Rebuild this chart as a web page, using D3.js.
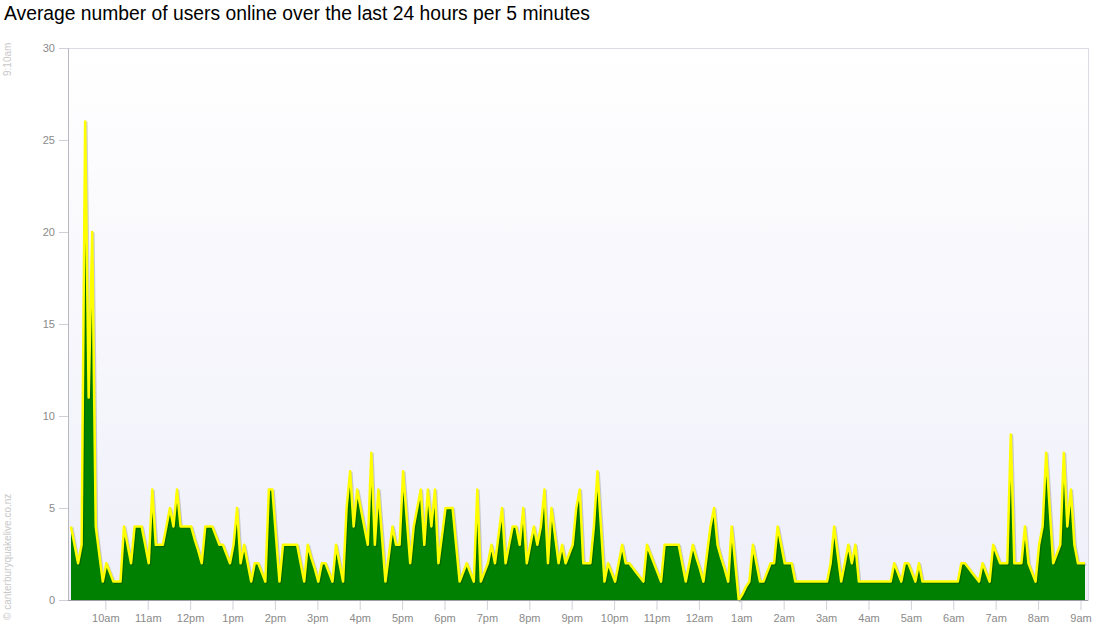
<!DOCTYPE html>
<html>
<head>
<meta charset="utf-8">
<script src="https://cdn.jsdelivr.net/npm/d3@7"></script>
<style>
  html, body { margin: 0; padding: 0; background: #ffffff; }
  svg { display: block; font-family: "Liberation Sans", Arial, sans-serif; }
</style>
</head>
<body>
<svg id="chart" width="1100" height="640"></svg>
<script>
// ---- data ----
const chartTitle = "Average number of users online over the last 24 hours per 5 minutes";
const startLabel = "9:10am";
const creditLabel = "© canterburyquakelive.co.nz";
const stepMinutes = 5;
const startTime = new Date(2012, 0, 1, 9, 10);   // 9:10am
// average users online, one value per 5 minutes, 288 values
const users = [
  4, 3, 2, 3, 26, 11, 20, 4, 2.5, 1,
  2, 1.5, 1, 1, 1, 4, 3, 2, 4, 4,
  4, 3, 2, 6, 3, 3, 3, 4, 5, 4,
  6, 4, 4, 4, 4, 3.3, 2.7, 2, 4, 4,
  4, 3.5, 3, 3, 2.5, 2, 3, 5, 2, 3,
  2, 1, 2, 2, 1.5, 1, 6, 6, 3.5, 1,
  3, 3, 3, 3, 3, 2, 1, 3, 2.3, 1.7,
  1, 2, 2, 1.5, 1, 3, 2, 1, 5, 7,
  4, 6, 5, 4, 3, 8, 3, 6, 3.5, 1,
  2.5, 4, 3, 3, 7, 4.5, 2, 4, 5, 6,
  3, 6, 4, 6, 2, 3.5, 5, 5, 5, 3,
  1, 1.5, 2, 1.5, 1, 6, 1, 1.5, 2, 3,
  2, 3.5, 5, 2, 3, 4, 4, 3, 5, 2,
  3, 4, 3, 4, 6, 2, 5, 3.5, 2, 3,
  2, 2.5, 3, 5, 6, 2, 2, 2, 4, 7,
  4, 1, 2, 1.5, 1, 2, 3, 2, 2, 1.75,
  1.5, 1.25, 1, 3, 2.5, 2, 1.5, 1, 3, 3,
  3, 3, 3, 2, 1, 2, 3, 2.3, 1.7, 1,
  2.5, 4, 5, 3, 2.3, 1.7, 1, 4, 2, 0,
  0.3, 0.7, 1, 3, 2, 1, 1, 1.5, 2, 2,
  4, 3, 2, 2, 2, 1, 1, 1, 1, 1,
  1, 1, 1, 1, 1, 2, 4, 2.5, 1, 2,
  3, 2, 3, 1, 1, 1, 1, 1, 1, 1,
  1, 1, 1, 2, 1.5, 1, 2, 2, 1.5, 1,
  2, 1, 1, 1, 1, 1, 1, 1, 1, 1,
  1, 1, 2, 2, 1.75, 1.5, 1.25, 1, 2, 1.5,
  1, 3, 2.5, 2, 2, 2, 9, 2, 2, 2,
  4, 2, 1.5, 1, 3, 4, 8, 5, 2, 2.5,
  3, 8, 4, 6, 3, 2, 2, 2
];
const yTicks = [0, 5, 10, 15, 20, 25, 30];
const xTickLabels = ["10am","11am","12pm","1pm","2pm","3pm","4pm","5pm","6pm","7pm","8pm","9pm",
                     "10pm","11pm","12am","1am","2am","3am","4am","5am","6am","7am","8am","9am"];

// ---- layout ----
const svg = d3.select("#chart");
const plot = { left: 68, right: 1088, top: 48, bottom: 600 };
const dataX0 = 71, dataX1 = 1085;

const times = users.map((v, i) => new Date(startTime.getTime() + i * stepMinutes * 60000));
const series = users.map((v, i) => ({ t: times[i], v: v }));

const x = d3.scaleTime().domain([times[0], times[times.length - 1]]).range([dataX0, dataX1]);
const y = d3.scaleLinear().domain([0, 30]).range([plot.bottom, plot.top]);

// hourly tick times 10am .. 9am
const tickTimes = xTickLabels.map((lab, k) => new Date(startTime.getTime() + (50 + k * 60) * 60000));

// background gradient
const defs = svg.append("defs");
const grad = defs.append("linearGradient").attr("id", "bg").attr("x1", 0).attr("y1", 0).attr("x2", 0).attr("y2", 1);
grad.append("stop").attr("offset", "0%").attr("stop-color", "#ffffff");
grad.append("stop").attr("offset", "100%").attr("stop-color", "#efeffa");

svg.append("rect")
  .attr("x", plot.left).attr("y", plot.top)
  .attr("width", plot.right - plot.left).attr("height", plot.bottom - plot.top)
  .attr("fill", "url(#bg)")
  .attr("stroke", "#dcdce4").attr("stroke-width", 1)
  .attr("shape-rendering", "crispEdges");

// title
svg.append("text")
  .attr("x", 4).attr("y", 20)
  .attr("font-size", 19.3)
  .attr("fill", "#000")
  .text(chartTitle);

// area + line
const area = d3.area().x(d => x(d.t)).y0(y(0)).y1(d => y(d.v));
const line = d3.line().x(d => x(d.t)).y(d => y(d.v));

svg.append("path").datum(series).attr("d", area).attr("fill", "#008000");
svg.append("path").datum(series).attr("d", line)
  .attr("fill", "none").attr("stroke", "rgba(0,0,0,0.18)").attr("stroke-width", 2.5)
  .attr("stroke-linejoin", "round")
  .attr("transform", "translate(1.2,1.2)");
svg.append("path").datum(series).attr("d", line)
  .attr("fill", "none").attr("stroke", "#ffff00").attr("stroke-width", 2.5)
  .attr("stroke-linejoin", "round");

// y axis
const yAxis = d3.axisLeft(y).tickValues(yTicks).tickSize(9).tickPadding(4).tickFormat(d3.format("d"));
const gy = svg.append("g").attr("transform", `translate(${plot.left},0)`).call(yAxis);
gy.select(".domain").attr("stroke", "#b8b8c0");
gy.selectAll(".tick line").attr("stroke", "#d0d0d8");
gy.selectAll(".tick text").attr("fill", "#8a8a8a").attr("font-size", 11)
  .attr("font-family", "'Liberation Sans', Arial, sans-serif");

// x axis
const xAxis = d3.axisBottom(x).tickValues(tickTimes).tickSize(10).tickPadding(4)
  .tickFormat((d, i) => xTickLabels[i]);
const gx = svg.append("g").attr("transform", `translate(-1,${plot.bottom})`).call(xAxis);
gx.select(".domain").remove();
gx.append("line").attr("x1", plot.left + 1).attr("x2", plot.right + 1).attr("y1", 0.5).attr("y2", 0.5)
  .attr("stroke", "#a0a0a8");
gx.selectAll(".tick line").attr("stroke", "#d0d0d8");
gx.selectAll(".tick text").attr("fill", "#8a8a8a").attr("font-size", 11)
  .attr("font-family", "'Liberation Sans', Arial, sans-serif");

// side labels (rotated)
svg.append("text")
  .attr("transform", "translate(11,76) rotate(-90)")
  .attr("font-size", 10).attr("fill", "#c8c8c8")
  .text(startLabel);
svg.append("text")
  .attr("transform", "translate(11,620) rotate(-90)")
  .attr("font-size", 10).attr("fill", "#c8c8c8")
  .text(creditLabel);
</script>
</body>
</html>
